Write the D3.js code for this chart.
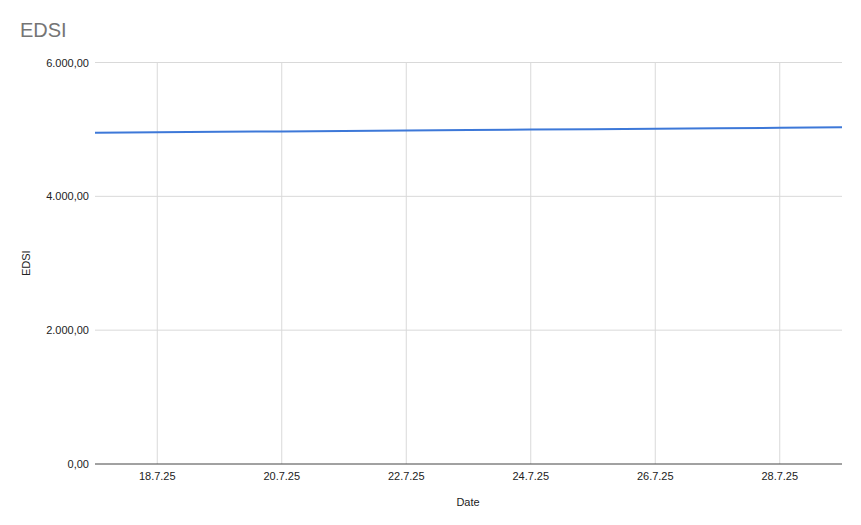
<!DOCTYPE html>
<html><head><meta charset="utf-8">
<script src="https://cdn.jsdelivr.net/npm/d3@7"></script>
<style>body{margin:0;background:#fff;}svg{display:block;font-family:"Liberation Sans",Arial,sans-serif;}</style>
</head><body>
<svg id="c" width="861" height="525"></svg>
<script>
const dates = ["17.7.25","18.7.25","19.7.25","20.7.25","21.7.25","22.7.25","23.7.25","24.7.25","25.7.25","26.7.25","27.7.25","28.7.25","29.7.25"];
const edsi = [4951, 4957, 4964, 4970, 4976, 4982, 4990, 4998, 5004, 5011, 5018, 5024, 5031];
const yTicks = [0, 2000, 4000, 6000];
const xTickDates = ["18.7.25","20.7.25","22.7.25","24.7.25","26.7.25","28.7.25"];

const parse = d3.timeParse("%d.%m.%y");
const data = dates.map((d,i)=>({date: parse(d), v: edsi[i]}));
const svg = d3.select("#c");
const L=95, R=842, T=62.5, B=464;
const x = d3.scaleTime().domain(d3.extent(data, d=>d.date)).range([L,R]);
const y = d3.scaleLinear().domain([0,6000]).range([B,T]);
const fmt = v => d3.format(",.2f")(v).replace(/,/g,"#").replace(/\./g,",").replace(/#/g,".");

// vertical grid
svg.append("g").selectAll("line").data(xTickDates).join("line")
  .attr("x1",d=>x(parse(d))).attr("x2",d=>x(parse(d)))
  .attr("y1",T).attr("y2",B).attr("stroke","#d9d9d9").attr("stroke-width",1);
// horizontal grid
svg.append("g").selectAll("line").data(yTicks.filter(t=>t>0)).join("line")
  .attr("x1",L).attr("x2",R).attr("y1",d=>y(d)).attr("y2",d=>y(d))
  .attr("stroke","#d9d9d9").attr("stroke-width",1);

// y labels
svg.append("g").selectAll("text").data(yTicks).join("text")
  .attr("x",89).attr("y",d=>y(d)+4).attr("text-anchor","end")
  .attr("font-size",11).attr("fill","#222").text(d=>fmt(d));
// x labels
svg.append("g").selectAll("text").data(xTickDates).join("text")
  .attr("x",d=>x(parse(d))).attr("y",480).attr("text-anchor","middle")
  .attr("font-size",11).attr("fill","#222").text(d=>d);

// baseline
svg.append("line").attr("x1",L).attr("x2",R).attr("y1",y(0)).attr("y2",y(0))
  .attr("stroke","#444").attr("stroke-width",1);

// line
svg.append("path").datum(data)
  .attr("d", d3.line().x(d=>x(d.date)).y(d=>y(d.v)))
  .attr("fill","none").attr("stroke","#3d78d8").attr("stroke-width",2);

// titles
svg.append("text").attr("x",20).attr("y",37).attr("font-size",20).attr("fill","#757575").text("EDSI");
svg.append("text").attr("x",468).attr("y",506).attr("text-anchor","middle").attr("font-size",11).attr("fill","#222").text("Date");
svg.append("text").attr("transform",`translate(30,${(T+B)/2}) rotate(-90)`).attr("text-anchor","middle")
  .attr("font-size",11).attr("fill","#222").text("EDSI");
</script>
</body></html>
